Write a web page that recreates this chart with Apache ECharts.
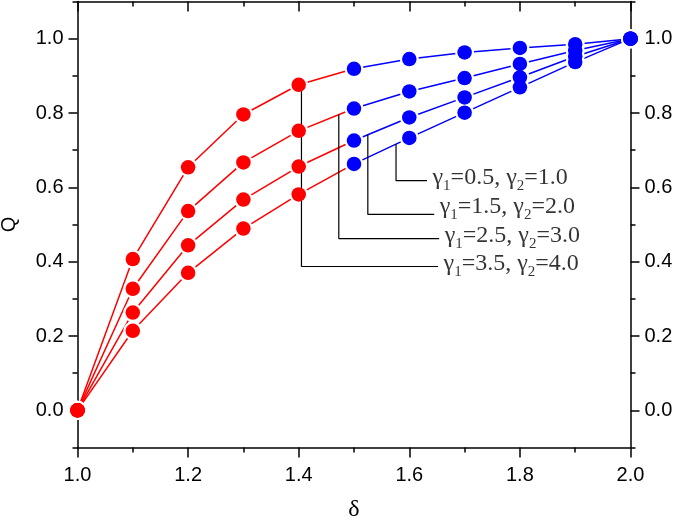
<!DOCTYPE html>
<html>
<head>
<meta charset="utf-8">
<script src="https://cdn.jsdelivr.net/npm/echarts@6/dist/echarts.min.js"></script>
<style>html,body{margin:0;padding:0;background:#fff}#c{width:675px;height:521px}</style>
</head>
<body>
<div id="c"></div>
<script>
// ---- data ----
var deltas = [1.0, 1.1, 1.2, 1.3, 1.4, 1.5, 1.6, 1.7, 1.8, 1.9, 2.0];
var q1 = [0, 0.407, 0.654, 0.796, 0.876, 0.919, 0.945, 0.963, 0.975, 0.985, 1.0];
var q2 = [0, 0.327, 0.536, 0.667, 0.752, 0.812, 0.858, 0.894, 0.932, 0.968, 1.0];
var q3 = [0, 0.263, 0.444, 0.567, 0.656, 0.726, 0.788, 0.842, 0.896, 0.952, 1.0];
var q4 = [0, 0.214, 0.370, 0.489, 0.581, 0.663, 0.733, 0.801, 0.869, 0.937, 1.0];
var curves = [q1, q2, q3, q4];
var redLastIndex = 4;        // points up to delta 1.4 are red
var xTicks = [1.0, 1.2, 1.4, 1.6, 1.8, 2.0];
var yTicks = [0.0, 0.2, 0.4, 0.6, 0.8, 1.0];
// callout polylines (data coordinates) and their labels
var calloutA = [[1.576, 0.716], [1.576, 0.618], [1.632, 0.618]];
var calloutB = [[1.525, 0.742], [1.525, 0.527], [1.645, 0.527]];
var calloutC = [[1.4725, 0.795], [1.4725, 0.462], [1.654, 0.462]];
var calloutD = [[1.405, 0.869], [1.405, 0.387], [1.652, 0.387]];
var callouts = [calloutA, calloutB, calloutC, calloutD];
var gamma1 = ['0.5', '1.5', '2.5', '3.5'];
var gamma2 = ['1.0', '2.0', '3.0', '4.0'];
var labelShiftY = [-3, -8, -3, -3];

var RED = '#ff0000', BLUE = '#0000ff';
var series = [];
curves.forEach(function (q) {
  var redPart = [], bluePart = [];
  deltas.forEach(function (d, i) {
    if (i <= redLastIndex + 1) redPart.push([d, q[i]]);
    if (i >= redLastIndex + 1) bluePart.push([d, q[i]]);
  });
  series.push({type: 'line', data: redPart, showSymbol: false, symbol: 'none', lineStyle: {color: RED, width: 1.5}, silent: true, z: 2});
  series.push({type: 'line', data: bluePart, showSymbol: false, symbol: 'none', lineStyle: {color: BLUE, width: 1.5}, silent: true, z: 2});
});
// white halo under markers (gaps in lines)
curves.forEach(function (q) {
  series.push({type: 'scatter', data: deltas.map(function (d, i) { return [d, q[i]]; }), symbol: 'circle', symbolSize: 19, itemStyle: {color: '#ffffff', opacity: 1}, silent: true, z: 3});
});
// callout lines
callouts.forEach(function (c, k) {
  series.push({type: 'line', data: c, showSymbol: false, symbol: 'none', lineStyle: {color: '#000', width: 1.2}, silent: true, z: 4});
  series.push({type: 'scatter', data: [c[c.length - 1]], symbolSize: 1, itemStyle: {color: 'rgba(0,0,0,0)'}, silent: true, z: 6,
    label: {show: true, position: 'right', distance: 5, offset: [0, labelShiftY[k]], fontFamily: 'Liberation Serif', fontSize: 24, color: '#000',
      formatter: '{t|\u03b3}{s|1}{t|=' + gamma1[k] + ', \u03b3}{s|2}{t|=' + gamma2[k] + '}',
      rich: {
        t: {fontFamily: 'Liberation Serif', fontSize: 24, color: '#000', lineHeight: 32, verticalAlign: 'middle'},
        s: {fontFamily: 'Liberation Serif', fontSize: 15, color: '#000', lineHeight: 32, verticalAlign: 'bottom'}
      }}});
});
// colored markers
curves.forEach(function (q) {
  var r = [], b = [];
  deltas.forEach(function (d, i) { (i <= redLastIndex ? r : b).push([d, q[i]]); });
  series.push({type: 'scatter', data: r, symbol: 'circle', symbolSize: 14.5, itemStyle: {color: RED, opacity: 1}, silent: true, z: 5});
  series.push({type: 'scatter', data: b, symbol: 'circle', symbolSize: 14.5, itemStyle: {color: BLUE, opacity: 1}, silent: true, z: 5});
});

var axisFont = {fontFamily: 'Liberation Sans', fontSize: 20, color: '#000'};
var lineStyle = {color: '#000', width: 1.5};
var chart = echarts.init(document.getElementById('c'), null, {renderer: 'canvas'});
chart.setOption({
  animation: false,
  backgroundColor: '#fff',
  grid: {left: 77.5, right: 44.5, top: 1.5, bottom: 73.5, containLabel: false, outerBoundsMode: 'none'},
  xAxis: [
    {type: 'value', position: 'bottom', min: 1, max: 2, interval: 0.2,
     axisLine: {show: true, onZero: false, lineStyle: lineStyle},
     axisTick: {show: true, inside: false, length: 10, lineStyle: {color: '#000', width: 1.5}},
     minorTick: {show: true, splitNumber: 2, length: 5, lineStyle: {color: '#000', width: 1.5}},
     axisLabel: Object.assign({margin: 18, customValues: xTicks, formatter: function (v) { return v.toFixed(1); }}, axisFont),
     splitLine: {show: false},
     name: '\u03b4', nameLocation: 'middle', nameGap: 50, nameMoveOverlap: false,
     nameTextStyle: {fontFamily: 'Liberation Serif', fontSize: 24, color: '#000'}},
    {type: 'value', position: 'top', min: 1, max: 2, interval: 0.2,
     axisLine: {show: true, onZero: false, lineStyle: lineStyle},
     axisTick: {show: true, inside: true, length: 10, lineStyle: {color: '#000', width: 1.5}},
     minorTick: {show: true, splitNumber: 2, length: 5, lineStyle: {color: '#000', width: 1.5}},
     axisLabel: {show: false}, splitLine: {show: false}}
  ],
  yAxis: [
    {type: 'value', position: 'left', min: -0.1, max: 1.1,
     axisLine: {show: true, onZero: false, lineStyle: lineStyle},
     axisTick: {show: true, inside: false, length: 9, customValues: yTicks, lineStyle: {color: '#000', width: 1.5}},
     axisLabel: Object.assign({margin: 14, customValues: yTicks, formatter: function (v) { return v.toFixed(1); }}, axisFont),
     splitLine: {show: false},
     name: 'Q', nameLocation: 'middle', nameGap: 58, nameMoveOverlap: false,
     nameTextStyle: {fontFamily: 'Liberation Sans', fontSize: 20, color: '#000'}},
    {type: 'value', position: 'left', min: -0.1, max: 1.1, interval: 0.1,
     axisLine: {show: false}, axisLabel: {show: false}, splitLine: {show: false},
     axisTick: {show: true, inside: false, length: 5, lineStyle: {color: '#000', width: 1.5}}},
    {type: 'value', position: 'right', min: -0.1, max: 1.1,
     axisLine: {show: true, onZero: false, lineStyle: lineStyle},
     axisTick: {show: true, inside: false, length: 9, customValues: yTicks, lineStyle: {color: '#000', width: 1.5}},
     axisLabel: Object.assign({margin: 14, customValues: yTicks, formatter: function (v) { return v.toFixed(1); }}, axisFont),
     splitLine: {show: false}},
    {type: 'value', position: 'right', min: -0.1, max: 1.1, interval: 0.1,
     axisLine: {show: false}, axisLabel: {show: false}, splitLine: {show: false},
     axisTick: {show: true, inside: false, length: 5, lineStyle: {color: '#000', width: 1.5}}}
  ],
  series: series
});
</script>
</body>
</html>
